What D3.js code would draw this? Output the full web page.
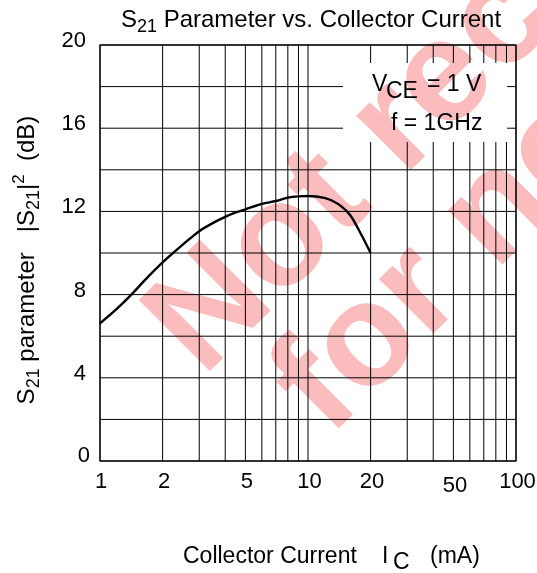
<!DOCTYPE html>
<html><head><meta charset="utf-8">
<script src="https://cdn.jsdelivr.net/npm/d3@7"></script>
<style>body{margin:0;background:#fff}svg{display:block;font-family:"Liberation Sans",Arial,sans-serif}</style>
</head><body>
<svg id="c" width="537" height="573"></svg>
<script>
// data
const current = [1, 1.2, 1.4, 1.7, 2, 2.5, 3, 3.5, 4, 4.5, 5, 6, 7, 8, 9, 10, 12, 14, 16, 18, 20];
const s21 = [6.62, 7.3, 7.95, 8.85, 9.55, 10.4, 11.05, 11.45, 11.74, 11.95, 12.1, 12.36, 12.5, 12.66, 12.72, 12.74, 12.65, 12.35, 11.8, 10.9, 10.0];
const xTicks = [1, 2, 5, 10, 20, 50, 100];
const yTicks = [0, 4, 8, 12, 16, 20];
const xGrid = [1, 2, 3, 4, 5, 6, 7, 8, 9, 10, 20, 30, 40, 50, 60, 70, 80, 90, 100];
const yGrid = [0, 2, 4, 6, 8, 10, 12, 14, 16, 18, 20];
const watermark = ["Not recommended", "for new design"];

const svg = d3.select("#c");
const L = 100, R = 516, T = 45, B = 461;
const x = d3.scaleLog().domain([1, 100]).range([L, R]);
const y = d3.scaleLinear().domain([0, 20]).range([B, T]);
const FS = 22, FT = 23;

// grid
const g = svg.append("g");
g.selectAll("line.v").data(xGrid).join("line")
  .attr("x1", d => x(d)).attr("x2", d => x(d)).attr("y1", T).attr("y2", B)
  .attr("stroke", "#000").attr("stroke-width", 1);
g.selectAll("line.h").data(yGrid).join("line")
  .attr("y1", d => y(d)).attr("y2", d => y(d)).attr("x1", L).attr("x2", R)
  .attr("stroke", "#000").attr("stroke-width", 1);
svg.append("rect").attr("x", L).attr("y", T).attr("width", R - L).attr("height", B - T)
  .attr("fill", "none").attr("stroke", "#000").attr("stroke-width", 1.2);

// annotation box
svg.append("rect").attr("x", 343).attr("y", 63).attr("width", 164).attr("height", 79).attr("fill", "#fff");

// curve
const line = d3.line().x((d, i) => x(current[i])).y(d => y(d)).curve(d3.curveMonotoneX);
svg.append("path").datum(s21).attr("d", line).attr("fill", "none")
  .attr("stroke", "#000").attr("stroke-width", 2.4);

// tick labels
svg.selectAll("text.yt").data(yTicks).join("text")
  .attr("x", d => d === 0 ? 90 : 86).attr("y", d => y(d) + (d === 0 ? 1 : 2)).attr("text-anchor", "end")
  .attr("font-size", FS).text(d => d);
svg.selectAll("text.xt").data(xTicks).join("text")
  .attr("x", d => x(d) + (d === 1 ? 1 : 1.5)).attr("y", d => d === 50 ? 492 : 488).attr("text-anchor", "middle")
  .attr("font-size", FS).text(d => d);

// title
const title = svg.append("text").attr("x", 311).attr("y", 27).attr("text-anchor", "middle").attr("font-size", 24);
title.append("tspan").text("S");
title.append("tspan").attr("font-size", 18).attr("dy", 5).text("21");
title.append("tspan").attr("dy", -5).text(" Parameter vs. Collector Current");

// x axis title
const xt = svg.append("text").attr("y", 563).attr("font-size", FT);
xt.append("tspan").attr("x", 183).text("Collector Current");
xt.append("tspan").attr("x", 382).text("I");
xt.append("tspan").attr("x", 393).attr("dy", 6).text("C");
xt.append("tspan").attr("x", 430).attr("dy", -6).text("(mA)");

// y axis title
const yt = svg.append("text").attr("transform", "translate(34,260) rotate(-90)")
  .attr("text-anchor", "middle").attr("font-size", 24);
yt.append("tspan").text("S");
yt.append("tspan").attr("font-size", 18).attr("dy", 5).text("21");
yt.append("tspan").attr("dy", -5).text(" parameter\u00a0\u00a0\u00a0|S");
yt.append("tspan").attr("font-size", 18).attr("dy", 5).text("21");
yt.append("tspan").attr("dy", -5).text("|");
yt.append("tspan").attr("font-size", 17).attr("dy", -10).text("2");
yt.append("tspan").attr("dy", 10).text("\u00a0\u00a0(dB)");

// annotation
const a1 = svg.append("text").attr("y", 91).attr("font-size", FT);
a1.append("tspan").attr("x", 372).text("V");
a1.append("tspan").attr("x", 386).attr("dy", 7).text("CE");
a1.append("tspan").attr("x", 427).attr("dy", -7).text("= 1 V");
svg.append("text").attr("x", 391).attr("y", 130).attr("font-size", FT).text("f = 1GHz");

// watermark
const wm = svg.append("g").style("mix-blend-mode", "multiply")
  .attr("font-family", "'Liberation Sans',Arial,sans-serif").attr("font-weight", "bold")
  .attr("font-size", 146).attr("fill", "rgb(250,188,188)");
wm.append("text").attr("transform", "translate(203,378) rotate(-45)").text(watermark[0]);
wm.append("text").attr("transform", "translate(329,438) rotate(-45)").text(watermark[1]);
</script>
</body></html>
